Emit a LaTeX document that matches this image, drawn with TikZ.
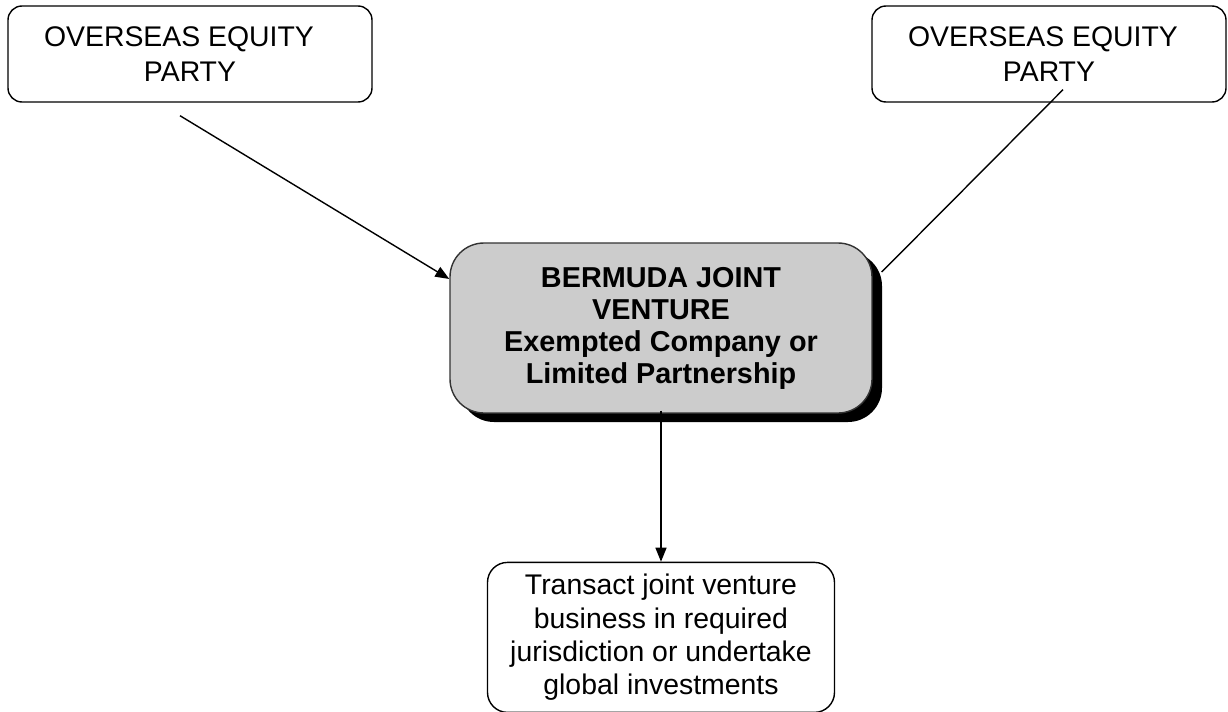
\documentclass[tikz,border=0pt]{standalone}
\usepackage{fontspec}
\setmainfont{Liberation Sans}
\usetikzlibrary{positioning,arrows.meta,shadows}

\begin{document}
\begin{tikzpicture}[x=0.5pt,y=-0.5pt,->,>={Triangle[length=7pt,width=5.5pt]},line width=0.7pt,align=center,
  font=\fontsize{14.2}{17.3}\selectfont,
  party/.style={draw=black,rounded corners=7pt,minimum width=182pt,minimum height=48pt,inner sep=0pt}]
\useasboundingbox (0,0) rectangle (1228,712);

%% Equity parties
\node (LParty) [party] at (190,54) {OVERSEAS EQUITY\hspace*{11pt}\\PARTY};
\node (RParty) [party,minimum width=177pt] at (1049,54) {OVERSEAS EQUITY\hspace*{6pt}\\PARTY};

%% Joint venture vehicle
\node (BJV) [fill=black!20,draw=black!80,rounded corners=17pt,minimum width=211pt,minimum height=85pt,
  font=\fontsize{14.4}{16}\selectfont\bfseries,
  drop shadow={shadow xshift=5pt,shadow yshift=-4.5pt,fill=black,opacity=1}] at (661,328)
  {BERMUDA JOINT\\VENTURE\\Exempted Company or\\Limited Partnership};

%% Business of the venture
\node (Business) [below=74pt of BJV,draw=black,rounded corners=10pt,minimum width=173.5pt,minimum height=75pt,
  font=\fontsize{14.2}{16.6}\selectfont]
  {Transact joint venture\\business in required\\jurisdiction or undertake\\global investments};

\draw[->] ([xshift=-5pt,yshift=-6.5pt]LParty.south) -- ([yshift=24.5pt]BJV.west);
\draw[-] ([xshift=7pt,yshift=6.5pt]RParty.south) -- ([xshift=4.5pt,yshift=28pt]BJV.east);
\draw[->] ([yshift=1.5pt]BJV.south) -- (Business.north);
\end{tikzpicture}
\end{document}
